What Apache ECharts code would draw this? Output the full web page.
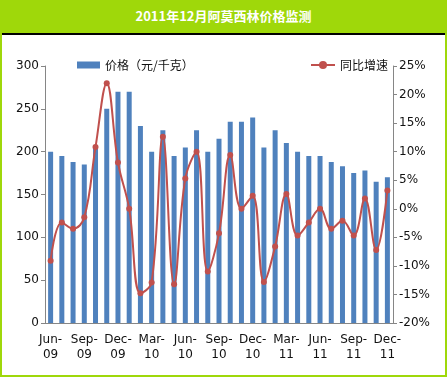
<!DOCTYPE html>
<html lang="zh">
<head>
<meta charset="UTF-8">
<title>2011年12月阿莫西林价格监测</title>
<style>
    * { margin: 0; padding: 0; }
    html, body { width: 447px; height: 377px; overflow: hidden; }
    body { background: #9fd80a; position: relative; }
    .title {
        position: absolute; left: 0; top: 0; width: 447px; height: 33px;
        line-height: 32px; text-align: center; color: #fff;
        font-family: "Noto Sans CJK SC", sans-serif; font-weight: bold; font-size: 13px;
    }
    #main {
        position: absolute; left: 2px; top: 33px; width: 443px; height: 342px;
        background: #fff; border-top: 2px solid #000; box-sizing: border-box;
    }
</style>
<script src="https://cdn.jsdelivr.net/npm/echarts@6/dist/echarts.min.js"></script>
</head>
<body>
<div class="title">2011年12月阿莫西林价格监测</div>
<div id="main"></div>
<script>
    var categories = [
        'Jun-09', 'Jul-09', 'Aug-09', 'Sep-09', 'Oct-09', 'Nov-09', 'Dec-09',
        'Jan-10', 'Feb-10', 'Mar-10', 'Apr-10', 'May-10', 'Jun-10', 'Jul-10', 'Aug-10', 'Sep-10', 'Oct-10', 'Nov-10', 'Dec-10',
        'Jan-11', 'Feb-11', 'Mar-11', 'Apr-11', 'May-11', 'Jun-11', 'Jul-11', 'Aug-11', 'Sep-11', 'Oct-11', 'Nov-11', 'Dec-11'
    ];
    // 价格 (元/千克)
    var price = [200, 195, 188, 185, 205, 250, 270, 270, 230, 200, 225, 195, 205, 225, 200, 215,
        235, 235, 240, 205, 225, 210, 200, 195, 195, 188, 183, 175, 178, 165, 170];
    // 同比增速 (%)
    var growth = [-9.1, -2.4, -3.5, -1.5, 10.8, 22, 8.1, 0, -14.8, -12.9, 12.6, -13.2, 5.3, 10, -11, -4.3,
        9.4, 0, 2.3, -12.8, -6.6, 2.6, -4.7, -2.4, 0, -3.5, -2.1, -4.7, 1.8, -7.2, 3.2];

    var axisColor = '#868686';
    var labelStyle = { color: '#111', fontSize: 12, fontFamily: 'DejaVu Sans' };

    var chart = echarts.init(document.getElementById('main'));
    chart.setOption({
        animation: false,
        grid: { left: 43, right: 52, top: 31, bottom: 52 },
        legend: [{
            left: 70, top: 19, itemWidth: 23, itemHeight: 7, itemGap: 4,
            textStyle: { color: '#111', fontSize: 12, fontFamily: 'Noto Sans CJK SC' },
            data: [{ name: '价格（元/千克）', icon: 'rect' }]
        }, {
            left: 303, top: 19, itemWidth: 24, itemHeight: 10,
            textStyle: { color: '#111', fontSize: 12, fontFamily: 'Noto Sans CJK SC' },
            data: ['同比增速']
        }],
        xAxis: {
            type: 'category',
            data: categories,
            axisLine: { lineStyle: { color: axisColor } },
            axisTick: { interval: 2, length: 4, lineStyle: { color: axisColor } },
            axisLabel: Object.assign({
                interval: 2, margin: 9, lineHeight: 15,
                formatter: function (v) { var p = v.split('-'); return p[0] + '-\n' + p[1]; }
            }, labelStyle)
        },
        yAxis: [{
            type: 'value', min: 0, max: 300, interval: 50,
            splitLine: { show: false },
            axisLine: { show: true, lineStyle: { color: axisColor } },
            axisTick: { show: true, length: 4, lineStyle: { color: axisColor } },
            axisLabel: Object.assign({ margin: 6 }, labelStyle)
        }, {
            type: 'value', min: -20, max: 25, interval: 5,
            splitLine: { show: false },
            axisLine: { show: true, lineStyle: { color: axisColor } },
            axisTick: { show: true, length: 4, lineStyle: { color: axisColor } },
            axisLabel: Object.assign({ margin: 6, formatter: '{value}%' }, labelStyle)
        }],
        series: [{
            name: '价格（元/千克）',
            type: 'bar',
            barWidth: 5,
            itemStyle: { color: '#4f81bd' },
            data: price
        }, {
            name: '同比增速',
            type: 'line',
            yAxisIndex: 1,
            smooth: 0.4,
            symbol: 'circle',
            symbolSize: 6,
            lineStyle: { color: '#c0504d', width: 2 },
            itemStyle: { color: '#c0504d' },
            data: growth
        }]
    });
</script>
</body>
</html>
